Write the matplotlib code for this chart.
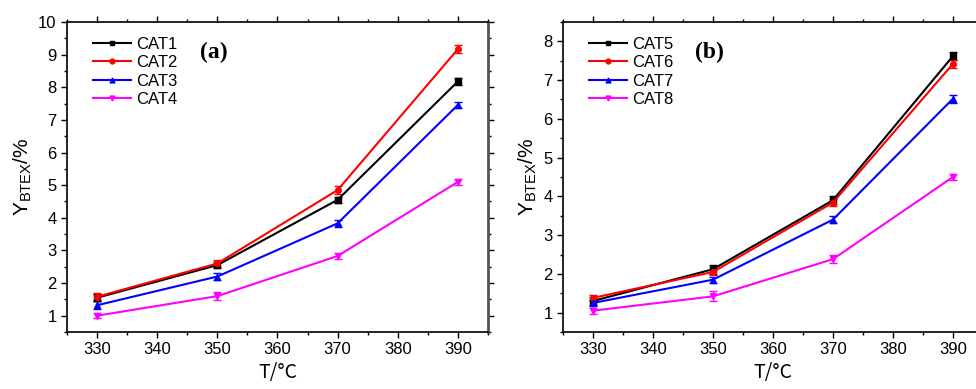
import matplotlib.pyplot as plt
from matplotlib.lines import Line2D
from matplotlib.ticker import MultipleLocator

plt.rcParams['font.family'] = ['Liberation Sans', 'DejaVu Sans']

temps = [330, 350, 370, 390]

# panel (a)
cat1 = [1.55, 2.55, 4.55, 8.18]
cat2 = [1.58, 2.60, 4.85, 9.17]
cat3 = [1.32, 2.20, 3.83, 7.46]
cat4 = [1.00, 1.60, 2.83, 5.10]
err1 = [0.10, 0.10, 0.10, 0.10]
err2 = [0.12, 0.10, 0.12, 0.12]
err3 = [0.12, 0.12, 0.10, 0.10]
err4 = [0.08, 0.12, 0.10, 0.08]

# panel (b)
cat5 = [1.30, 2.12, 3.90, 7.62]
cat6 = [1.38, 2.05, 3.84, 7.42]
cat7 = [1.25, 1.85, 3.40, 6.52]
cat8 = [1.05, 1.42, 2.38, 4.50]
err5 = [0.10, 0.12, 0.10, 0.10]
err6 = [0.08, 0.08, 0.10, 0.10]
err7 = [0.08, 0.08, 0.10, 0.10]
err8 = [0.08, 0.13, 0.10, 0.08]

names_a = ["CAT1", "CAT2", "CAT3", "CAT4"]
names_b = ["CAT5", "CAT6", "CAT7", "CAT8"]
colors = ["black", "red", "blue", "magenta"]
markers = ["s", "o", "^", "v"]


def draw(ax, series, errs, names, ylim, tag):
    handles = []
    for y, e, name, c, m in zip(series, errs, names, colors, markers):
        ax.errorbar(temps, y, yerr=e, color=c, marker=m, markersize=4,
                    linewidth=1.5, capsize=3, elinewidth=1)
        handles.append(Line2D([], [], color=c, marker=m, markersize=3.5,
                              linewidth=1.5, label=name))
    ax.set_xlim(325, 395)
    ax.set_ylim(*ylim)
    ax.xaxis.set_major_locator(MultipleLocator(10))
    ax.xaxis.set_minor_locator(MultipleLocator(5))
    ax.yaxis.set_major_locator(MultipleLocator(1))
    ax.yaxis.set_minor_locator(MultipleLocator(0.5))
    ax.tick_params(which="both", direction="out", labelsize=12, width=1,
                   top=True, right=True, labeltop=False, labelright=False)
    ax.tick_params(which="major", length=4)
    ax.tick_params(which="minor", length=2.5)
    for s in ax.spines.values():
        s.set_linewidth(1.2)
    ax.spines["right"].set_color("#555555")
    ax.spines["right"].set_linewidth(2)
    ax.set_xlabel("T/°C", fontsize=14, family=["Noto Sans CJK SC", "DejaVu Sans"],
                  labelpad=3)
    ax.set_ylabel(r"Y$_{\mathregular{BTEX}}$/%", fontsize=15, labelpad=3)
    ax.legend(handles=handles, loc="upper left", bbox_to_anchor=(0.03, 0.995),
              frameon=False, fontsize=12, handlelength=2.3, handletextpad=0.3,
              labelspacing=0.2, borderpad=0.3)
    ax.text(0.315, 0.903, tag, transform=ax.transAxes, fontsize=17,
            fontweight="bold", family="Liberation Serif", va="center")


fig = plt.figure(figsize=(9.76, 3.89), dpi=100)
ax1 = fig.add_axes([0.0686, 0.1465, 0.4314, 0.797])
ax2 = fig.add_axes([0.5768, 0.1465, 0.4303, 0.797])

draw(ax1, [cat1, cat2, cat3, cat4], [err1, err2, err3, err4], names_a, (0.5, 10), "(a)")
draw(ax2, [cat5, cat6, cat7, cat8], [err5, err6, err7, err8], names_b, (0.5, 8.5), "(b)")

fig.savefig("out.png", dpi=100)
